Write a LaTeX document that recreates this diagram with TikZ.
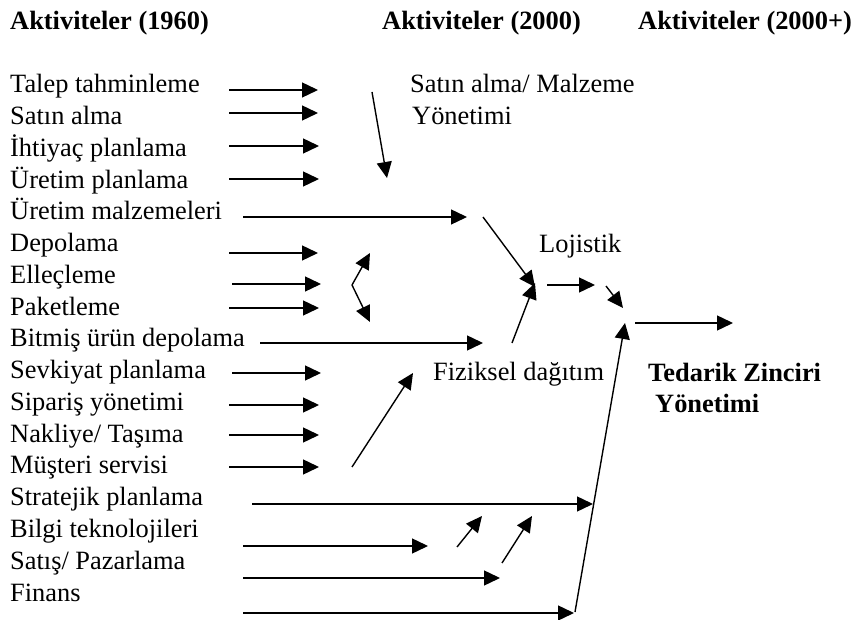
\documentclass[tikz,border=0pt]{standalone}
\usepackage{fontspec}
\setmainfont{Liberation Serif}
\usetikzlibrary{arrows.meta}
\tikzset{
  lbl/.style={anchor=base west, inner sep=0pt, font=\fontsize{26.4}{31}\selectfont},
  hdr/.style={lbl, font=\fontsize{26.4}{31}\selectfont\bfseries},
  arr/.style={line width=1.4pt, -{Triangle[length=16pt,width=15pt]}},
}
\newcommand\myarr[3]{\coordinate (#1s) at (#2); \coordinate (#1e) at (#3); \draw[arr] (#1s) -- (#1e);}
\begin{document}
\begin{tikzpicture}[x=1pt,y=-1pt]
\useasboundingbox (0,0) rectangle (855,620);
% headers
\node[hdr] (h1) at (10,30) {Aktiviteler (1960)};
\node[hdr] (h2) at (382,30) {Aktiviteler (2000)};
\node[hdr] (h3) at (638,30) {Aktiviteler (2000+)};
% left column
\foreach \t [count=\i from 0] in {Talep tahminleme,Satın alma,İhtiyaç planlama,Üretim planlama,Üretim malzemeleri,Depolama,Elleçleme,Paketleme,Bitmiş ürün depolama,Sevkiyat planlama,Sipariş yönetimi,Nakliye/ Taşıma,Müşteri servisi,Stratejik planlama,Bilgi teknolojileri,Satış/ Pazarlama,Finans}
  \node[lbl] (t\i) at (10,{93+31.75*\i}) {\t};
% middle/right labels
\node[lbl] (sm1) at (410,93) {Satın alma/ Malzeme};
\node[lbl] (sm2) at (412,125) {Yönetimi};
\node[lbl] (loj) at (539,253) {Lojistik};
\node[lbl] (fiz) at (433,381) {Fiziksel dağıtım};
\node[hdr] (tz1) at (648,382) {Tedarik Zinciri};
\node[hdr] (tz2) at (655,413) {Yönetimi};
% row arrows
\myarr{r1}{229,90}{318,90}
\myarr{r2}{229,113}{318,113}
\myarr{r3}{229,146}{319,146}
\myarr{r4}{229,179}{319,179}
\myarr{r5}{243,217}{467,217}
\myarr{r6}{229,253}{318,253}
\myarr{r7}{232,284}{321,284}
\myarr{r8}{229,308}{319,308}
\myarr{r9}{260,343}{483,343}
\myarr{r10}{232,373}{321,373}
\myarr{r11}{229,405}{319,405}
\myarr{r12}{229,435}{319,435}
\myarr{r13}{229,467}{319,467}
\myarr{r14}{252,504}{593,504}
\myarr{r15}{243,546}{428,546}
\myarr{r16}{243,578}{500,578}
\myarr{r17}{243,613}{574,613}
% other arrows
\myarr{dn}{372,92}{387,178}
\myarr{bu}{352,285}{370,253}
\myarr{bd}{352,285}{370,322}
\myarr{lt}{483,217}{535,287}
\myarr{lb}{512,343}{535,283}
\myarr{lo}{547,285}{595,285}
\myarr{ls}{606,286}{623,308}
\myarr{fin}{635,323}{733,323}
\myarr{tall}{575,612}{625,323}
\myarr{fd}{352,467}{413,373}
\myarr{s1}{457,547}{482,516}
\myarr{s2}{502,563}{532,516}
\end{tikzpicture}
\end{document}
